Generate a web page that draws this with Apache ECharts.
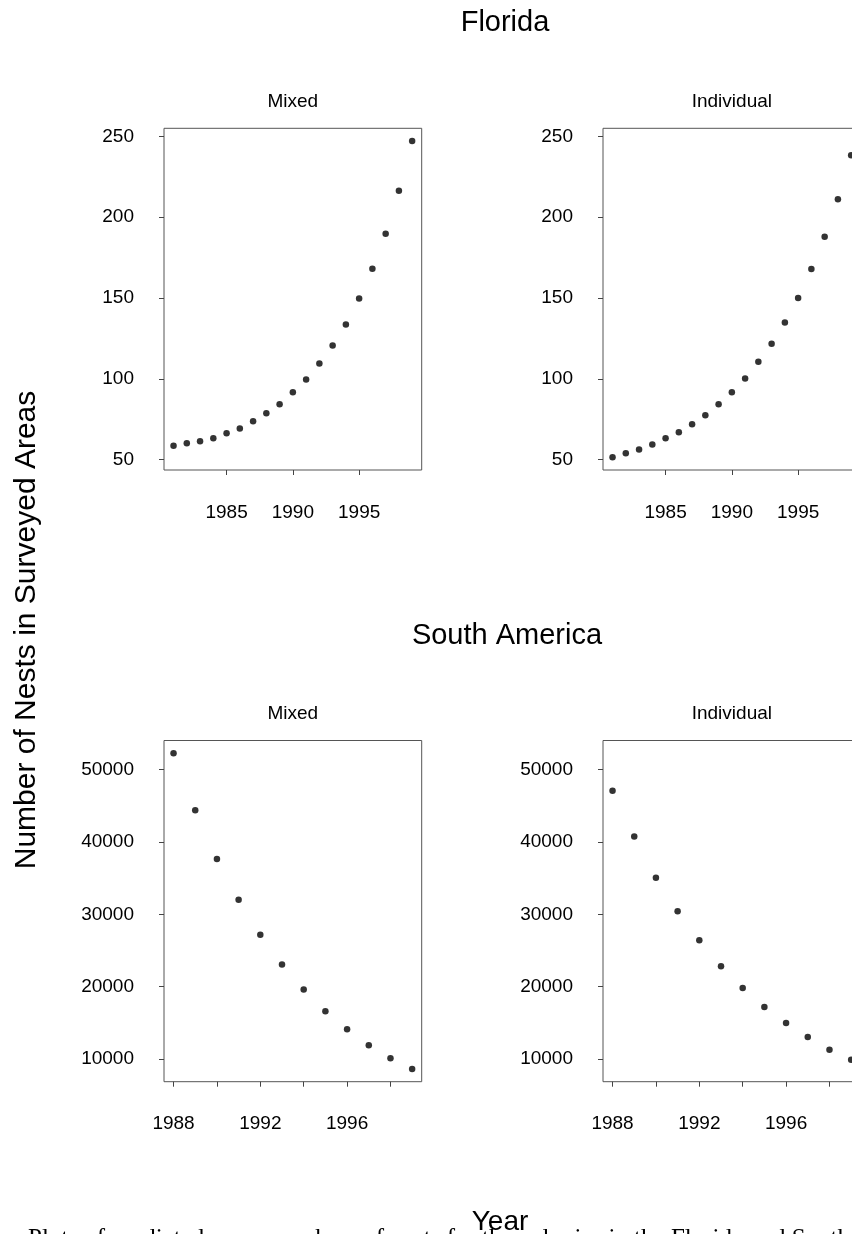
<!DOCTYPE html>
<html>
<head>
<meta charset="utf-8">
<script src="https://cdn.jsdelivr.net/npm/echarts@6/dist/echarts.min.js"></script>
<style>
  html, body { margin: 0; padding: 0; overflow: hidden; background: #fff; width: 852px; height: 1234px; }
  #chart { width: 900px; height: 1260px; }
</style>
</head>
<body>
<div id="chart"></div>
<script>
// Florida colonies, 1981-1999
const floridaYears = [1981, 1982, 1983, 1984, 1985, 1986, 1987, 1988, 1989, 1990,
                      1991, 1992, 1993, 1994, 1995, 1996, 1997, 1998, 1999];
const floridaMixed = [58.6, 60.1, 61.3, 63.2, 66.3, 69.3, 73.7, 78.6, 84.2, 91.6,
                      99.6, 109.5, 120.6, 133.5, 149.6, 168.1, 189.7, 216.3, 247.1];
const floridaIndividual = [51.4, 53.9, 56.2, 59.3, 63.2, 66.9, 71.8, 77.4, 84.2, 91.6,
                           100.2, 110.5, 121.6, 134.8, 150.0, 167.9, 187.9, 211.1, 238.3];

// South American colonies, 1988-1999
const saYears = [1988, 1989, 1990, 1991, 1992, 1993, 1994, 1995, 1996, 1997, 1998, 1999];
const saMixed = [52250, 44360, 37630, 31990, 27180, 23060, 19620, 16600, 14120, 11920, 10140, 8630];
const saIndividual = [47060, 40730, 35050, 30410, 26420, 22840, 19820, 17200, 15000, 13070, 11280, 9910];

// Tick positions and labels
const floridaXTicks = [1985, 1990, 1995];
const floridaYTicks = [50, 100, 150, 200, 250];
const saXTicks = [1988, 1990, 1992, 1994, 1996, 1998];
const saXLabels = [1988, 1992, 1996];
const saYTicks = [10000, 20000, 30000, 40000, 50000];

const panelTitles = ['Mixed', 'Individual'];
const regionTitles = ['Florida', 'South America'];
const yTitle = 'Number of Nests in Surveyed Areas';
const xTitle = 'Year';
const caption = 'Plots of predicted mean numbers of nests for the colonies in the Florida and South America';

// Axis range padded by 4% on each side
function padded(values) {
  const lo = Math.min(...values), hi = Math.max(...values);
  const pad = (hi - lo) * 0.04;
  return [lo - pad, hi + pad];
}

const FONT = '"Liberation Sans", Arial, Helvetica, sans-serif';
const SERIF = '"Liberation Serif", "Times New Roman", serif';

const colLeft = [164, 603];
const colWidth = 257.7;
const rowTop = [128.3, 740.5];
const rowHeight = [341.7, 341.2];

const fXRange = padded(floridaYears);
const fYRange = padded(floridaMixed.concat(floridaIndividual));
const sXRange = padded(saYears);
const sYRange = padded(saMixed.concat(saIndividual));

const panels = [
  { row: 0, col: 0, x: floridaYears, y: floridaMixed, xr: fXRange, yr: fYRange, xt: floridaXTicks, xl: floridaXTicks, yt: floridaYTicks },
  { row: 0, col: 1, x: floridaYears, y: floridaIndividual, xr: fXRange, yr: fYRange, xt: floridaXTicks, xl: floridaXTicks, yt: floridaYTicks },
  { row: 1, col: 0, x: saYears, y: saMixed, xr: sXRange, yr: sYRange, xt: saXTicks, xl: saXLabels, yt: saYTicks },
  { row: 1, col: 1, x: saYears, y: saIndividual, xr: sXRange, yr: sYRange, xt: saXTicks, xl: saXLabels, yt: saYTicks }
];

const grid = [], xAxis = [], yAxis = [], series = [];
const tickStyle = { color: '#444', width: 1 };
const labelStyle = { fontFamily: FONT, fontSize: 19, color: '#000' };

panels.forEach((p, i) => {
  grid.push({
    left: colLeft[p.col], top: rowTop[p.row],
    width: colWidth, height: rowHeight[p.row],
    show: true, borderColor: '#555', borderWidth: 1, backgroundColor: 'transparent',
    containLabel: false
  });
  xAxis.push({
    type: 'value', gridIndex: i, min: p.xr[0], max: p.xr[1],
    axisLine: { show: false },
    axisTick: { show: true, inside: false, length: 5, lineStyle: tickStyle, customValues: p.xt },
    axisLabel: Object.assign({ margin: 33, customValues: p.xl, formatter: v => String(v) }, labelStyle),
    splitLine: { show: false }
  });
  yAxis.push({
    type: 'value', gridIndex: i, min: p.yr[0], max: p.yr[1],
    axisLine: { show: false },
    axisTick: { show: true, inside: false, length: 5, lineStyle: tickStyle, customValues: p.yt },
    axisLabel: Object.assign({ margin: 30, customValues: p.yt, formatter: v => String(v) }, labelStyle),
    splitLine: { show: false }
  });
  series.push({
    type: 'scatter', xAxisIndex: i, yAxisIndex: i,
    data: p.x.map((yr, k) => [yr, p.y[k]]),
    symbol: 'circle', symbolSize: 6.5,
    itemStyle: { color: '#000' },
    silent: true, animation: false
  });
});

const graphic = [];
function addText(text, x, y, size, opts) {
  graphic.push(Object.assign({
    type: 'text', x: x, y: y, silent: true,
    style: { text: text, fontFamily: FONT, fontSize: size, fill: '#000',
             textAlign: 'center', textVerticalAlign: 'middle' }
  }, opts || {}));
}

// Region headings
addText(regionTitles[0], 505, 23, 29);
addText(regionTitles[1], 507, 636, 29);
// Panel headings
const panelTitleY = [102, 714];
panels.forEach(p => {
  addText(panelTitles[p.col], colLeft[p.col] + colWidth / 2, panelTitleY[p.row], 19);
});
// Shared axis titles
addText(xTitle, 500, 1222, 28);
addText(yTitle, 27, 630, 30, { rotation: Math.PI / 2 });
// Figure caption, running below the page edge
graphic.push({
  type: 'text', x: 28, y: 1227, silent: true,
  style: { text: caption, fontFamily: SERIF, fontSize: 25, fill: '#000',
           textAlign: 'left', textVerticalAlign: 'top' }
});

const chart = echarts.init(document.getElementById('chart'), null, { renderer: 'canvas' });
chart.setOption({
  animation: false,
  backgroundColor: '#fff',
  grid, xAxis, yAxis, series, graphic
});
</script>
</body>
</html>
